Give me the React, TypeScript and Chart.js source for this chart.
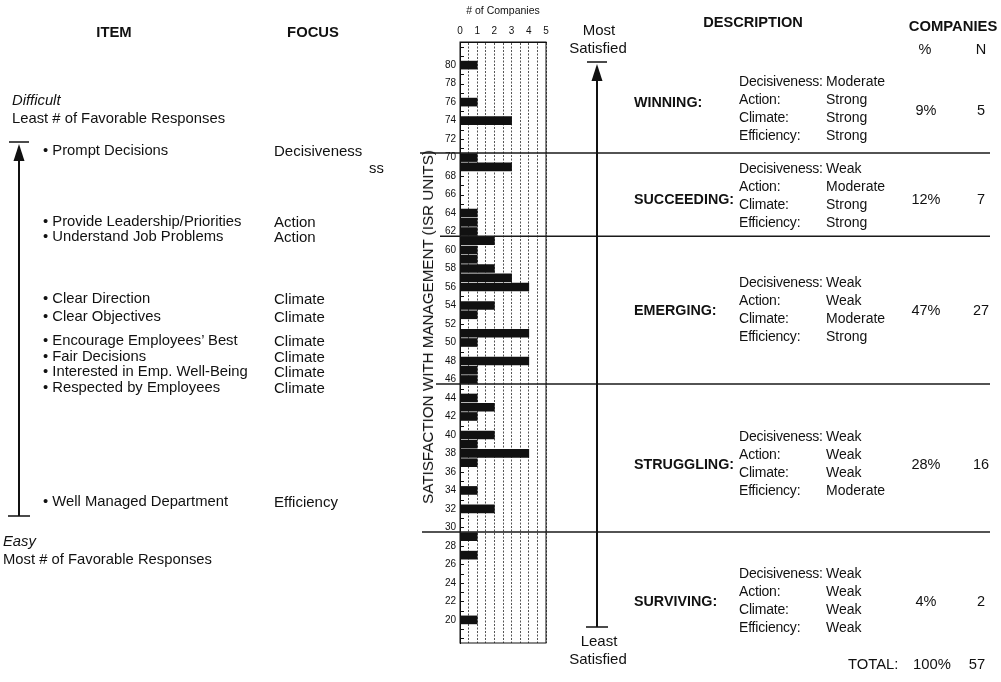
import React, { useEffect, useRef } from "react";
import { Chart, registerables } from "chart.js";

Chart.register(...registerables);

// ---- Data ----
const scores = [80, 76, 74, 70, 69, 64, 63, 62, 61, 60, 59, 58, 57, 56, 54, 53, 51, 50, 48, 47, 46, 44, 43, 42, 40, 39, 38, 37, 34, 32, 29, 27, 20];
const companies = [1, 1, 3, 1, 3, 1, 1, 1, 2, 1, 1, 2, 3, 4, 2, 1, 4, 1, 4, 1, 1, 1, 2, 1, 2, 1, 4, 1, 1, 2, 1, 1, 1];
const yTicks = [20, 22, 24, 26, 28, 30, 32, 34, 36, 38, 40, 42, 44, 46, 48, 50, 52, 54, 56, 58, 60, 62, 64, 66, 68, 70, 72, 74, 76, 78, 80];
const xGrid = [0, 0.5, 1, 1.5, 2, 2.5, 3, 3.5, 4, 4.5, 5];
const groupBoundaries = [70.5, 61.5, 45.5, 29.5];
const groupNames = ["WINNING:", "SUCCEEDING:", "EMERGING:", "STRUGGLING:", "SURVIVING:"];
const groupPct = ["9%", "12%", "47%", "28%", "4%"];
const groupN = ["5", "7", "27", "16", "2"];
const decisiveness = ["Moderate", "Weak", "Weak", "Weak", "Weak"];
const action = ["Strong", "Moderate", "Weak", "Weak", "Weak"];
const climate = ["Strong", "Strong", "Moderate", "Weak", "Weak"];
const efficiency = ["Strong", "Strong", "Strong", "Moderate", "Weak"];
const items = [
  "• Prompt Decisions",
  "• Provide Leadership/Priorities",
  "• Understand Job Problems",
  "• Clear Direction",
  "• Clear Objectives",
  "• Encourage Employees’ Best",
  "• Fair Decisions",
  "• Interested in Emp. Well-Being",
  "• Respected by Employees",
  "• Well Managed Department",
];
const focus = ["Decisiveness", "Action", "Action", "Climate", "Climate", "Climate", "Climate", "Climate", "Climate", "Efficiency"];

// ---- Layout (positions only) ----
const FONT = "'Liberation Sans', Arial, Helvetica, sans-serif";
const itemY = [150, 221, 236, 298, 316, 340, 356, 371, 387, 501];
const groupLabelY = [102, 199, 310, 464, 601];
const groupRowTop = [81, 168, 282, 436, 573];
const lineStartX = [420, 440, 436, 422];

type TP = { x: number; y: number; children: React.ReactNode; bold?: boolean; italic?: boolean; center?: boolean; size?: number; ls?: number };
const T = ({ x, y, children, bold, italic, center, size = 14, ls = 0 }: TP) => (
  <div
    style={{
      position: "absolute",
      left: x,
      top: y - 9,
      height: 18,
      lineHeight: "18px",
      fontSize: size,
      letterSpacing: ls,
      fontWeight: bold ? 700 : 400,
      fontStyle: italic ? "italic" : "normal",
      whiteSpace: "nowrap",
      transform: center ? "translateX(-50%)" : undefined,
      color: "#111",
    }}
  >
    {children}
  </div>
);

const decorPlugin = {
  id: "decor",
  afterDatasetsDraw(chart: any) {
    const { ctx, chartArea } = chart;
    const y = chart.scales.y;
    ctx.save();
    ctx.strokeStyle = "#111";
    ctx.lineWidth = 1;
    ctx.setLineDash([]);
    ctx.strokeRect(chartArea.left, chartArea.top, chartArea.right - chartArea.left, chartArea.bottom - chartArea.top);
    for (let v = Math.ceil(y.min); v <= Math.floor(y.max); v++) {
      const py = Math.round(y.getPixelForValue(v)) + 0.5;
      ctx.beginPath();
      ctx.moveTo(chartArea.left, py);
      ctx.lineTo(chartArea.left + 4, py);
      ctx.stroke();
    }
    ctx.lineWidth = 1.5;
    ctx.strokeStyle = "#1a1a1a";
    groupBoundaries.forEach((b, i) => {
      const py = y.getPixelForValue(b);
      ctx.beginPath();
      ctx.moveTo(lineStartX[i], py);
      ctx.lineTo(990, py);
      ctx.stroke();
    });
    const arrow = (x: number, top: number, bottom: number) => {
      ctx.fillStyle = "#111";
      ctx.strokeStyle = "#111";
      ctx.lineWidth = 1.5;
      ctx.beginPath();
      ctx.moveTo(x - 10, top);
      ctx.lineTo(x + 10, top);
      ctx.moveTo(x - 11, bottom);
      ctx.lineTo(x + 11, bottom);
      ctx.stroke();
      ctx.beginPath();
      ctx.moveTo(x, top + 2);
      ctx.lineTo(x - 5.5, top + 19);
      ctx.lineTo(x + 5.5, top + 19);
      ctx.closePath();
      ctx.fill();
      ctx.lineWidth = 2;
      ctx.beginPath();
      ctx.moveTo(x, top + 18);
      ctx.lineTo(x, bottom);
      ctx.stroke();
    };
    arrow(597, 62, 627);
    arrow(19, 142, 516);
    ctx.restore();
  },
};

export default function App() {
  const ref = useRef<HTMLCanvasElement>(null);
  useEffect(() => {
    if (!ref.current) return;
    const chart = new Chart(ref.current, {
      type: "bar",
      data: {
        datasets: [
          {
            data: scores.map((s, i) => ({ x: companies[i], y: s })),
            backgroundColor: "#111",
            borderWidth: 0,
            barThickness: 8,
          },
        ],
      },
      options: {
        indexAxis: "y",
        animation: false,
        responsive: false,
        devicePixelRatio: 1,
        layout: { padding: { left: 438, right: 455, top: 0, bottom: 39 } },
        plugins: { legend: { display: false }, tooltip: { enabled: false } },
        scales: {
          x: {
            type: "linear",
            position: "top",
            min: 0,
            max: 5,
            offset: false,
            afterBuildTicks: (s: any) => {
              s.ticks = xGrid.map((v) => ({ value: v }));
            },
            afterFit: (s: any) => {
              s.height = 42;
            },
            ticks: {
              autoSkip: false,
              maxRotation: 0,
              padding: 5,
              color: "#111",
              font: { family: FONT, size: 10 },
              callback: (v: any) => (Number.isInteger(v) ? String(v) : ""),
            },
            title: {
              display: true,
              text: "# of Companies",
              color: "#111",
              font: { family: FONT, size: 10.5 },
              padding: { top: 5, bottom: 0 },
            },
            grid: { display: true, drawTicks: false, color: "#555", lineWidth: 1 },
            border: { display: true, color: "#111", width: 1, dash: [2, 1.5] },
          },
          y: {
            type: "linear",
            min: 17.5,
            max: 82.5,
            offset: false,
            afterBuildTicks: (s: any) => {
              s.ticks = yTicks.map((v) => ({ value: v }));
            },
            afterFit: (s: any) => {
              s.width = 22;
            },
            ticks: {
              autoSkip: false,
              padding: 4,
              color: "#111",
              font: { family: FONT, size: 10 },
            },
            grid: { display: false, drawTicks: false },
            border: { display: true, color: "#111", width: 1 },
          },
        },
      },
      plugins: [decorPlugin],
    } as any);
    return () => chart.destroy();
  }, []);

  const L = 14.8;
  return (
    <div style={{ position: "absolute", left: 0, top: 0, width: 1001, height: 682, background: "#fff", overflow: "hidden", fontFamily: FONT, color: "#111" }}>
      <canvas ref={ref} width={1001} height={682} style={{ position: "absolute", left: 0, top: 0, width: 1001, height: 682 }} />
      <T x={114} y={32} bold center size={14.8}>ITEM</T>
      <T x={313} y={32} bold center size={14.8}>FOCUS</T>
      <T x={12} y={100} italic size={L}>Difficult</T>
      <T x={12} y={118} size={L}>Least # of Favorable Responses</T>
      {items.map((t, i) => (
        <T key={"i" + i} x={43} y={itemY[i]} size={L}>{t}</T>
      ))}
      {focus.map((t, i) => (
        <T key={"f" + i} x={274} y={itemY[i] + 1} size={15}>{t}</T>
      ))}
      <T x={369} y={168} size={L}>ss</T>
      <T x={3} y={541} italic size={L}>Easy</T>
      <T x={3} y={559} size={L}>Most # of Favorable Responses</T>
      <div
        style={{
          position: "absolute",
          left: 428,
          top: 327,
          transform: "translate(-50%, -50%) rotate(-90deg)",
          fontSize: 15.2,
          whiteSpace: "nowrap",
          lineHeight: "16px",
        }}
      >
        SATISFACTION WITH MANAGEMENT (ISR UNITS)
      </div>
      <T x={599} y={30} center size={15}>Most</T>
      <T x={598} y={48} center size={15}>Satisfied</T>
      <T x={599} y={641} center size={15}>Least</T>
      <T x={598} y={659} center size={15}>Satisfied</T>
      <T x={753} y={22} bold center size={14.6}>DESCRIPTION</T>
      <T x={953} y={26} bold center size={14.8}>COMPANIES</T>
      <T x={925} y={49} center size={14.5}>%</T>
      <T x={981} y={49} center size={14.5}>N</T>
      {groupNames.map((g, i) => (
        <React.Fragment key={"g" + i}>
          <T x={634} y={groupLabelY[i]} bold size={14.3}>{g}</T>
          <T x={739} y={groupRowTop[i]} ls={-0.2}>Decisiveness:</T>
          <T x={826} y={groupRowTop[i]}>{decisiveness[i]}</T>
          <T x={739} y={groupRowTop[i] + 18} ls={-0.2}>Action:</T>
          <T x={826} y={groupRowTop[i] + 18}>{action[i]}</T>
          <T x={739} y={groupRowTop[i] + 36} ls={-0.2}>Climate:</T>
          <T x={826} y={groupRowTop[i] + 36}>{climate[i]}</T>
          <T x={739} y={groupRowTop[i] + 54} ls={-0.2}>Efficiency:</T>
          <T x={826} y={groupRowTop[i] + 54}>{efficiency[i]}</T>
          <T x={926} y={groupLabelY[i] + (i === 0 ? 8 : 0)} center size={14.5}>{groupPct[i]}</T>
          <T x={981} y={groupLabelY[i] + (i === 0 ? 8 : 0)} center size={14.5}>{groupN[i]}</T>
        </React.Fragment>
      ))}
      <T x={848} y={664} size={14.8}>TOTAL:</T>
      <T x={932} y={664} center size={14.8}>100%</T>
      <T x={977} y={664} center size={14.8}>57</T>
    </div>
  );
}
